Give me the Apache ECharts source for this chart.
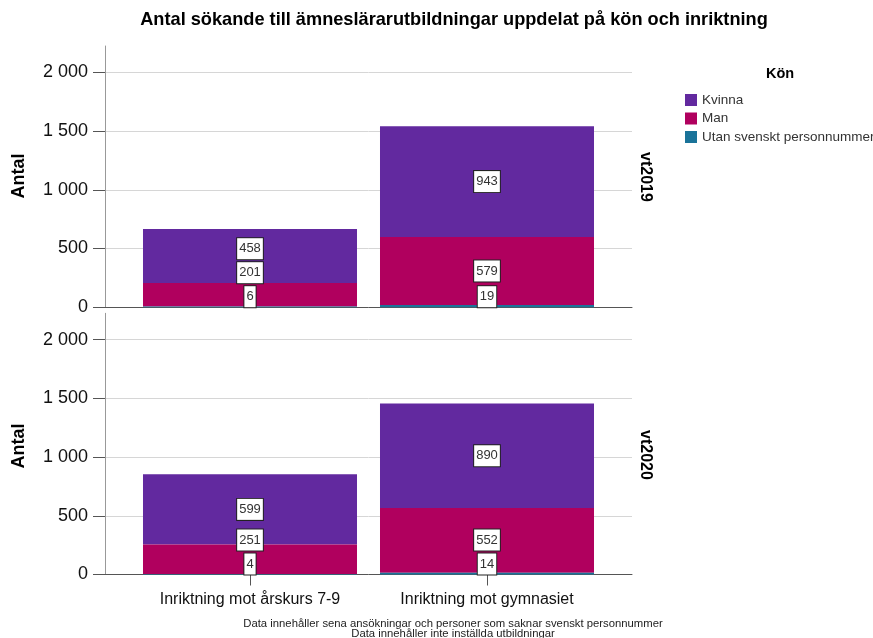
<!DOCTYPE html>
<html>
<head>
<meta charset="utf-8">
<script src="https://cdn.jsdelivr.net/npm/echarts@6/dist/echarts.min.js"></script>
<style>html,body{margin:0;padding:0;background:#fff}#c{width:873px;height:638px}</style>
</head>
<body>
<div id="c"></div>
<script>
const categories = ['Inriktning mot årskurs 7-9', 'Inriktning mot gymnasiet'];
const panels = ['vt2019', 'vt2020'];
const kvinna2019 = [458, 943];
const man2019 = [201, 579];
const utan2019 = [6, 19];
const kvinna2020 = [599, 890];
const man2020 = [251, 552];
const utan2020 = [4, 14];
const yTicks = [0, 500, 1000, 1500, 2000];
const yMax = 2224;
const seriesNames = ['Kvinna', 'Man', 'Utan svenskt personnummer'];
const colors = {'Kvinna': '#62299f', 'Man': '#b0005e', 'Utan svenskt personnummer': '#1a7399'};

const FONT = '"Liberation Sans", Arial, sans-serif';
const panelData = [
  {utan: utan2019, man: man2019, kvinna: kvinna2019},
  {utan: utan2020, man: man2020, kvinna: kvinna2020}
];
const grids = [];
const xAxes = [];
const yAxes = [];
const panelTops = [46, 313.3];
const panelH = 261.2;
const fmt = v => String(v).replace(/\B(?=(\d{3})+(?!\d))/g, ' ');

panelTops.forEach((top, p) => {
  // background grid with axes and gridlines
  grids.push({left: 105, width: 527, top: top, height: panelH});
  xAxes.push({gridIndex: 2 * p, type: 'value', min: 0, max: 1,
    axisLine: {show: true, lineStyle: {color: '#555', width: 1}},
    axisTick: {show: false}, axisLabel: {show: false}, splitLine: {show: false}});
  yAxes.push({gridIndex: 2 * p, type: 'value', min: 0, max: yMax,
    axisLine: {show: true, lineStyle: {color: '#999', width: 1}},
    axisTick: {show: true, length: 12, lineStyle: {color: '#555'}, customValues: yTicks},
    axisLabel: {show: true, fontSize: 18, color: '#111', fontFamily: FONT, margin: 17, formatter: fmt, customValues: yTicks},
    splitLine: {show: true, lineStyle: {color: '#d6d6d6', width: 1}}});
  // bar grid
  grids.push({left: 131.5, width: 474, top: top, height: panelH});
  xAxes.push({gridIndex: 2 * p + 1, type: 'category', data: categories, boundaryGap: true,
    axisLine: {show: false},
    axisTick: {show: p === 1, alignWithLabel: true, length: 11, lineStyle: {color: '#555'}},
    axisLabel: {show: p === 1, fontSize: 16, color: '#111', fontFamily: FONT, margin: 17}});
  yAxes.push({gridIndex: 2 * p + 1, type: 'value', min: 0, max: yMax, show: false,
    splitLine: {show: false}});
});

const labelBase = {show: true, position: 'inside', fontSize: 13, lineHeight: 15, color: '#333',
  fontFamily: FONT, backgroundColor: '#fff', borderColor: '#222', borderWidth: 1, padding: [3, 2, 3, 2]};

function buildSeries(offsets) {
  const s = [];
  panelData.forEach((d, p) => {
    const order = [['Utan svenskt personnummer', d.utan, 4], ['Man', d.man, 3], ['Kvinna', d.kvinna, 2]];
    order.forEach(([name, vals, z], k) => {
      s.push({
        name: name, type: 'bar', stack: 'p' + p, xAxisIndex: 2 * p + 1, yAxisIndex: 2 * p + 1,
        barWidth: '90.3%', z: z,
        itemStyle: {color: colors[name]},
        label: labelBase,
        emphasis: {disabled: true},
        data: vals.map((v, c) => ({value: v, label: {offset: [0, offsets ? offsets[p][c][k] : 0]}}))
      });
    });
  });
  return s;
}

const txt = (text, x, y, size, weight, color, rot) => ({
  type: 'text', x: x, y: y, rotation: rot || 0,
  style: {text: text, font: weight + ' ' + size + 'px ' + FONT, fill: color,
    textAlign: 'center', textVerticalAlign: 'middle', align: 'center', verticalAlign: 'middle'}
});

const chart = echarts.init(document.getElementById('c'), null, {renderer: 'canvas'});
const option = {
  animation: false,
  backgroundColor: '#fff',
  grid: grids, xAxis: xAxes, yAxis: yAxes,
  legend: {
    orient: 'vertical', left: 685, top: 93, padding: 0,
    itemWidth: 12, itemHeight: 12, itemGap: 4.5, icon: 'rect',
    data: seriesNames,
    textStyle: {fontSize: 13.5, lineHeight: 13, color: '#333', fontFamily: FONT},
    selectedMode: false
  },
  graphic: [
    txt('Antal sökande till ämneslärarutbildningar uppdelat på kön och inriktning', 454, 20, 18.2, 'bold', '#000'),
    txt('Kön', 780, 74, 14.5, 'bold', '#000'),
    txt('Antal', 19, 176, 18, 'bold', '#000', Math.PI / 2),
    txt('Antal', 19, 446, 18, 'bold', '#000', Math.PI / 2),
    txt(panels[0], 645.5, 177, 16, 'bold', '#000', -Math.PI / 2),
    txt(panels[1], 645.5, 455, 16, 'bold', '#000', -Math.PI / 2),
    txt('Data innehåller sena ansökningar och personer som saknar svenskt personnummer', 453, 624, 11.3, 'normal', '#222'),
    txt('Data innehåller inte inställda utbildningar', 453, 634, 11.3, 'normal', '#222')
  ],
  series: buildSeries(null)
};
chart.setOption(option);

// push overlapping labels upward, using pixel positions from the library's scales
const H = 21, GAP = 3;
const offsets = panelData.map((d, p) => categories.map((cat, c) => {
  const segs = [d.utan[c], d.man[c], d.kvinna[c]];
  const finder = {xAxisIndex: 2 * p + 1, yAxisIndex: 2 * p + 1};
  let limit = chart.convertToPixel(finder, [c, 0])[1];
  let cum = 0;
  return segs.map(v => {
    const yc = chart.convertToPixel(finder, [c, cum + v / 2])[1];
    cum += v;
    const center = Math.min(yc, limit - H / 2);
    limit = center - H / 2 - GAP;
    return center - yc;
  });
}));
chart.setOption({series: buildSeries(offsets)});
</script>
</body>
</html>
